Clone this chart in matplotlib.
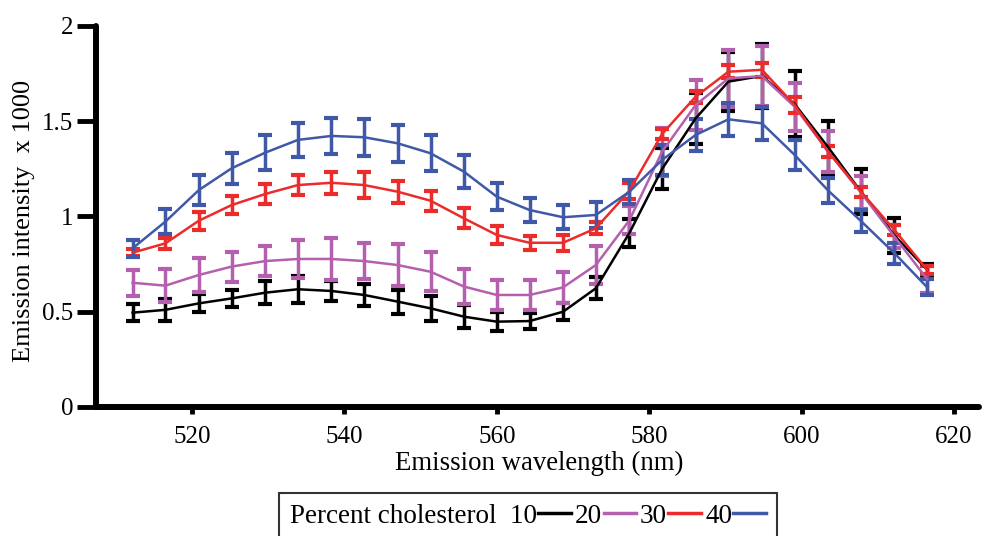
#!/usr/bin/env python3
# -*- coding: utf-8 -*-
"""Emission spectra for membranes of increasing cholesterol content."""

import matplotlib
matplotlib.use('Agg')

import matplotlib.pyplot as plt
from matplotlib.lines import Line2D

# Emission wavelengths (nm)
wavelength = [512.2, 516.5, 520.9, 525.2, 529.6, 533.9, 538.3, 542.6, 547.0,
              551.3, 555.7, 560.0, 564.3, 568.7, 573.0, 577.4, 581.7, 586.1,
              590.4, 594.8, 599.1, 603.5, 607.8, 612.2, 616.5]

# Mean emission intensity (x 1000) for each cholesterol percentage
chol_10 = [0.495, 0.51, 0.544, 0.57, 0.60, 0.618, 0.609, 0.588, 0.553,
           0.518, 0.474, 0.448, 0.451, 0.50, 0.623, 0.913, 1.25, 1.515,
           1.708, 1.738, 1.59, 1.363, 1.13, 0.90, 0.72]
chol_20 = [0.652, 0.637, 0.693, 0.737, 0.766, 0.777, 0.777, 0.766, 0.745,
           0.71, 0.632, 0.588, 0.588, 0.628, 0.745, 0.98, 1.34, 1.585,
           1.725, 1.737, 1.576, 1.34, 1.125, 0.894, 0.67]
chol_30 = [0.81, 0.859, 0.978, 1.06, 1.118, 1.165, 1.177, 1.165, 1.13,
           1.083, 0.99, 0.903, 0.862, 0.862, 0.938, 1.134, 1.433, 1.629,
           1.76, 1.77, 1.585, 1.34, 1.13, 0.929, 0.719]
chol_40 = [0.833, 0.973, 1.139, 1.253, 1.335, 1.402, 1.423, 1.416, 1.384,
           1.332, 1.235, 1.104, 1.034, 0.996, 1.008, 1.13, 1.297, 1.428,
           1.51, 1.489, 1.323, 1.136, 0.976, 0.807, 0.628]

# Standard deviations
err_10 = [0.044, 0.058, 0.048, 0.045, 0.06, 0.07, 0.054, 0.06, 0.063,
          0.067, 0.059, 0.048, 0.044, 0.045, 0.057, 0.074, 0.108, 0.135,
          0.153, 0.17, 0.175, 0.14, 0.117, 0.09, 0.03]
err_20 = [0.069, 0.085, 0.087, 0.079, 0.081, 0.10, 0.112, 0.094, 0.108,
          0.102, 0.092, 0.079, 0.079, 0.083, 0.099, 0.074, 0.127, 0.13,
          0.15, 0.157, 0.127, 0.107, 0.088, 0.06, 0.07]
err_30 = [0.02, 0.029, 0.048, 0.048, 0.054, 0.054, 0.059, 0.069, 0.057,
          0.053, 0.052, 0.046, 0.037, 0.041, 0.031, 0.04, 0.028, 0.031,
          0.035, 0.038, 0.041, 0.03, 0.026, 0.024, 0.019]
err_40 = [0.045, 0.064, 0.079, 0.081, 0.092, 0.09, 0.094, 0.096, 0.096,
          0.094, 0.087, 0.072, 0.065, 0.064, 0.066, 0.063, 0.079, 0.083,
          0.087, 0.086, 0.079, 0.067, 0.06, 0.054, 0.042]

percent_labels = ['10', '20', '30', '40']
colors = ['#000000', '#B460AE', '#EC2B2B', '#4058A8']

plt.rcParams['font.family'] = ['Liberation Serif', 'DejaVu Serif']

fig = plt.figure(figsize=(9.82, 5.36), dpi=100)
ax = fig.add_axes([0.0978, 0.2407, 0.8992, 0.7108])

series = [(chol_10, err_10), (chol_20, err_20), (chol_30, err_30), (chol_40, err_40)]
for (vals, errs), color in zip(series, colors):
    ax.errorbar(wavelength, vals, yerr=errs, color=color, linewidth=1.8,
                elinewidth=2.5, capsize=5, capthick=3, zorder=3)

ax.set_xlim(507.4, 623.3)
ax.set_ylim(0, 2)
ax.set_xticks([520, 540, 560, 580, 600, 620])
ax.set_yticks([0, 0.5, 1, 1.5, 2])
ax.set_yticklabels(['0', '0.5', '1', '1.5', '2'])

for side in ('top', 'right'):
    ax.spines[side].set_visible(False)
for side in ('left', 'bottom'):
    ax.spines[side].set_linewidth(4.3)
    ax.spines[side].set_capstyle('round')

ax.tick_params(axis='y', direction='out', length=13.5, width=3.5, pad=3,
               labelsize=18)
ax.tick_params(axis='x', direction='out', length=5, width=3.5, pad=9,
               labelsize=18)

fig.text(539 / 982, 1 - 463 / 536, 'Emission wavelength (nm)',
         ha='center', va='center', fontsize=19.3)
fig.text(24 / 982, 1 - 221 / 536, 'Emission intensity  x 1000',
         ha='center', va='center', rotation=90, fontsize=19)

handles = [Line2D([], [], color=c, linewidth=2.5) for c in colors]
labels = ['Percent cholesterol  ' + percent_labels[0]] + percent_labels[1:]
leg = fig.legend(handles, labels, loc='upper center', ncol=4,
                 bbox_to_anchor=(528 / 982, 1 - 493 / 536),
                 markerfirst=False, handlelength=1.2, handletextpad=0.05,
                 columnspacing=0.15, fontsize=19.5, fancybox=False,
                 borderpad=0.4, borderaxespad=0)
leg.get_frame().set_edgecolor('black')
leg.get_frame().set_linewidth(1.5)

fig.savefig('out.png', dpi=100, facecolor='white')
plt.close(fig)
